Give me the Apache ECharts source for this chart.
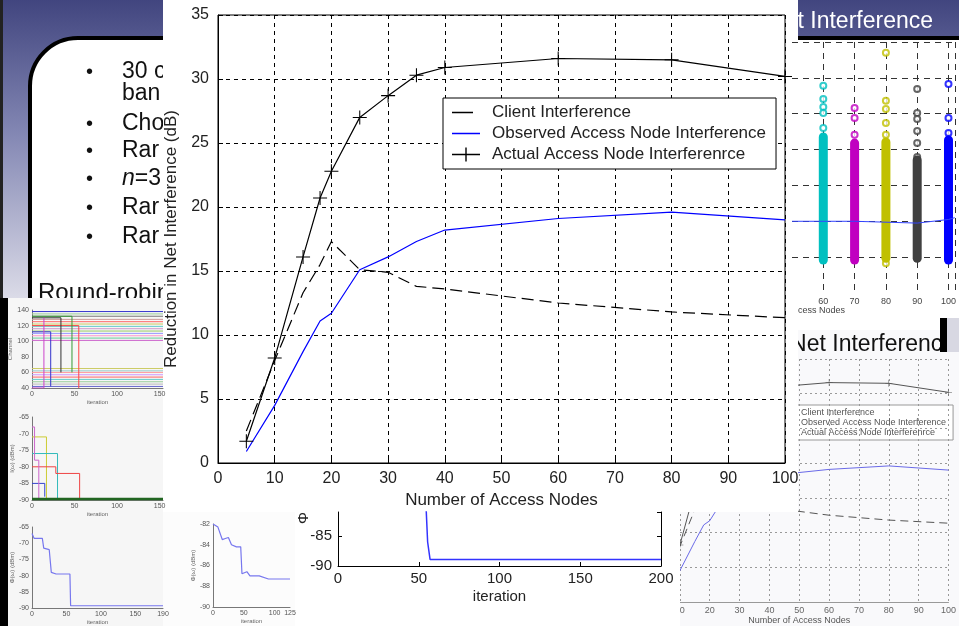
<!DOCTYPE html>
<html>
<head>
<meta charset="utf-8">
<script src="https://cdn.jsdelivr.net/npm/echarts@6/dist/echarts.min.js"></script>
<style>
  html, body { margin: 0; padding: 0; background: #fff; }
  #chart { width: 959px; height: 626px; }
</style>
</head>
<body>
<div id="chart"></div>
<script>
// main plot: reduction in net interference vs number of access nodes
const accessNodes = [5, 10, 15, 18, 20, 25, 30, 35, 40, 60, 80, 100];
const clientInterference = [2.5, 8.0, 13.3, 15.5, 17.3, 15.1, 14.9, 13.8, 13.6, 12.5, 11.8, 11.35];
const observedInterference = [0.9, 4.5, 8.7, 11.1, 11.7, 15.1, 16.1, 17.3, 18.2, 19.1, 19.6, 19.0];
const actualInterference = [1.7, 8.2, 16.1, 20.7, 22.8, 27.0, 28.7, 30.3, 30.9, 31.6, 31.5, 30.2];
const seriesNames = ['Client Interference', 'Observed Access Node Interference', 'Actual Access Node Interferenrce'];

// bottom centre plot (iteration)
const iterX = [54.5, 55.5, 57, 200];
const iterY = [-80, -86, -88.9, -88.9];
// small phi plot next to it
const phiSmallX = [0, 8, 15, 20, 25, 30, 38, 45, 47, 55, 60, 75, 90, 125];
const phiSmallY = [-82, -82.3, -83.5, -83.4, -83.3, -84, -84.2, -84.2, -86.8, -86.6, -87, -87, -87.3, -87.3];

// left small plots
const channelLevels = [138, 135, 132, 128, 125, 122, 119, 116, 113, 110, 107, 104, 101, 65, 62, 60, 57, 54, 51, 48, 45, 42];
const channelColors = ['#3333cc', '#99cc99', '#777777', '#cc9999', '#ff6666', '#cccc66', '#66cccc', '#cc99cc', '#99cc66', '#9999ff',
  '#ff99cc', '#66cc99', '#cc66cc', '#cccc66', '#99cccc', '#ff9999', '#cc99ff', '#ff6666', '#66cccc', '#99cc99', '#bbbbbb', '#6666cc'];
const channelJumps = [
  { color: '#ff4444', x: [0, 55, 55], y: [120, 120, 40] },
  { color: '#339933', x: [0, 47, 47], y: [132, 132, 60] },
  { color: '#3333cc', x: [0, 22, 22], y: [112, 112, 42] },
  { color: '#333333', x: [0, 34, 34], y: [130, 130, 60] },
  { color: '#cc44cc', x: [0, 14, 14], y: [40, 40, 130] }
];
const interfSteps = [
  { color: '#cccc33', x: [0, 17, 17], y: [-71, -71, -89.5] },
  { color: '#33bbbb', x: [0, 30, 30], y: [-76, -76, -89.5] },
  { color: '#ee4444', x: [0, 28, 28, 56, 56], y: [-80, -80, -82, -82, -89.5] },
  { color: '#3344cc', x: [0, 15, 15], y: [-85, -85, -89] },
  { color: '#cc66cc', x: [0, 3, 3, 8, 8], y: [-68, -68, -78, -78, -89.5] },
  { color: '#226622', x: [0, 154], y: [-89.7, -89.7] }
];
const phiLeftX = [0, 3, 15, 17, 25, 28, 35, 55, 56, 190];
const phiLeftY = [-67, -68.5, -68.5, -71.5, -72, -79, -79.5, -79.5, -89.3, -89.3];

// right scatter plot (per node count: dense range + outliers)
const scatterNodes = [60, 70, 80, 90, 100];
const scatterColors = ['#00c0c0', '#c000c0', '#c0c000', '#404040', '#0000ff'];
const denseLow = [0.92, 0.92, 0.97, 0.97, 0.92];
const denseHigh = [4.35, 4.18, 4.21, 3.71, 4.27];
const outliers = [
  [5.78, 5.41, 5.19, 5.02, 4.6],
  [5.16, 4.88, 4.41],
  [6.7, 5.36, 5.13, 4.74, 4.41, 0.83],
  [5.69, 5.02, 4.85, 4.52, 4.18, 3.79],
  [5.83, 4.88, 4.46]
];
const scatterLineX = [50, 70, 90, 100, 102];
const scatterLineY = [2.0, 2.0, 1.95, 2.05, 2.1];

const FONT = 'Liberation Sans, Arial, sans-serif';
const plus = 'path://M0,9.25h20v1.5h-20z M9.25,0h1.5v20h-1.5z';
// legend icons: zero-area edges fix the box so the line keeps its length
const iconShort = 'path://M0,0L0,14L0,0Z M35,0L35,14L35,0Z M0,6.3h21v1.4h-21Z';
const iconLine = 'path://M0,0L0,14L0,0Z M35,0L35,14L35,0Z M0,6.3h28v1.4h-28Z';
const iconPlus = 'path://M0,0L0,14L0,0Z M35,0L35,14L35,0Z M0,6.3h28v1.4h-28Z M13.3,0h1.4v14h-1.4Z';
const pair = (xs, ys) => xs.map((x, i) => [x, ys[i]]);

const chart = echarts.init(document.getElementById('chart'));

function smallX(grid, max, name) {
  return {
    type: 'value', gridIndex: grid, min: 0, max: max, interval: 50,
    name: name, nameLocation: 'middle', nameGap: 11,
    nameTextStyle: { fontSize: 6, color: '#666', fontFamily: FONT },
    axisLine: { lineStyle: { color: '#777' } }, axisTick: { show: false },
    axisLabel: { fontSize: 7, color: '#555', margin: 3, fontFamily: FONT },
    splitLine: { show: false }
  };
}
function smallY(grid, min, max, interval, name) {
  return {
    type: 'value', gridIndex: grid, min: min, max: max, interval: interval,
    name: name, nameLocation: 'middle', nameGap: 16,
    nameTextStyle: { fontSize: 6, color: '#666', fontFamily: FONT },
    axisLine: { show: true, lineStyle: { color: '#777' } }, axisTick: { show: false },
    axisLabel: { fontSize: 7, color: '#555', margin: 3, fontFamily: FONT },
    splitLine: { show: false }
  };
}

const series = [
  {
    name: seriesNames[0], type: 'line', xAxisIndex: 0, yAxisIndex: 0,
    data: pair(accessNodes, clientInterference), symbol: 'none',
    lineStyle: { color: '#000', width: 1.2, type: [12, 6] }, itemStyle: { color: '#000' }
  },
  {
    name: seriesNames[1], type: 'line', xAxisIndex: 0, yAxisIndex: 0,
    data: pair(accessNodes, observedInterference), symbol: 'none',
    lineStyle: { color: '#0000ff', width: 1.2 }, itemStyle: { color: '#0000ff' }
  },
  {
    name: seriesNames[2], type: 'line', xAxisIndex: 0, yAxisIndex: 0,
    data: pair(accessNodes, actualInterference), symbol: plus, symbolSize: 14,
    lineStyle: { color: '#000', width: 1.2 }, itemStyle: { color: '#000', borderWidth: 0 }
  },
  // faded copy, bottom right
  {
    name: seriesNames[0], type: 'line', xAxisIndex: 1, yAxisIndex: 1, z: -20,
    data: pair(accessNodes, clientInterference), symbol: 'none',
    lineStyle: { color: '#555', width: 1, type: [8, 5] }, itemStyle: { color: '#555' }
  },
  {
    name: seriesNames[1], type: 'line', xAxisIndex: 1, yAxisIndex: 1, z: -20,
    data: pair(accessNodes, observedInterference), symbol: 'none',
    lineStyle: { color: '#6a6ae8', width: 1 }, itemStyle: { color: '#6a6ae8' }
  },
  {
    name: seriesNames[2], type: 'line', xAxisIndex: 1, yAxisIndex: 1, z: -20,
    data: pair(accessNodes, actualInterference), symbol: plus, symbolSize: 7,
    lineStyle: { color: '#555', width: 1 }, itemStyle: { color: '#555', borderWidth: 0 }
  },
  {
    type: 'line', xAxisIndex: 2, yAxisIndex: 2, data: pair(iterX, iterY), symbol: 'none',
    lineStyle: { color: '#3333ff', width: 1.5 }
  },
  {
    type: 'line', xAxisIndex: 3, yAxisIndex: 4, data: pair(phiSmallX, phiSmallY), symbol: 'none',
    lineStyle: { color: '#7777ee', width: 1.2 }
  },
  {
    type: 'line', xAxisIndex: 6, yAxisIndex: 7, data: pair(phiLeftX, phiLeftY), symbol: 'none',
    lineStyle: { color: '#7777ee', width: 1.2 }
  }
];
channelLevels.forEach((lv, i) => series.push({
  type: 'line', xAxisIndex: 4, yAxisIndex: 5, symbol: 'none', data: [[0, lv], [154, lv]],
  lineStyle: { color: channelColors[i], width: 1 }
}));
channelJumps.forEach(j => series.push({
  type: 'line', xAxisIndex: 4, yAxisIndex: 5, symbol: 'none', data: pair(j.x, j.y),
  lineStyle: { color: j.color, width: 1 }
}));
interfSteps.forEach(s => series.push({
  type: 'line', xAxisIndex: 5, yAxisIndex: 6, symbol: 'none', data: pair(s.x, s.y),
  lineStyle: { color: s.color, width: s.x.length === 2 ? 2.5 : 1 }
}));
scatterNodes.forEach((n, i) => {
  series.push({
    type: 'line', xAxisIndex: 7, yAxisIndex: 8, symbol: 'none',
    data: [[n, denseLow[i]], [n, denseHigh[i]]],
    lineStyle: { color: scatterColors[i], width: 9, cap: 'round' }
  });
  series.push({
    type: 'scatter', xAxisIndex: 7, yAxisIndex: 8, symbol: 'emptyCircle', symbolSize: 6,
    data: outliers[i].map(v => [n, v]),
    itemStyle: { color: scatterColors[i], borderColor: scatterColors[i], borderWidth: 1 }
  });
});
series.push({
  type: 'line', xAxisIndex: 7, yAxisIndex: 8, symbol: 'none', data: pair(scatterLineX, scatterLineY),
  lineStyle: { color: '#3344ff', width: 1 }
});

const bullets = [
  { y: 72, t: '30 c', dot: true }, { y: 94, t: 'ban', dot: false }, { y: 124, t: 'Cho', dot: true },
  { y: 151, t: 'Rar', dot: true }, { y: 179, t: '{i|n}=3', dot: true }, { y: 208, t: 'Rar', dot: true },
  { y: 237, t: 'Rar', dot: true }
];
const graphics = [
  { type: 'rect', z: -100, shape: { x: 0, y: 0, width: 959, height: 626 }, style: { fill: '#fff' } },
  {
    type: 'rect', z: -90, shape: { x: 0, y: 0, width: 959, height: 300 },
    style: { fill: { type: 'linear', x: 0, y: 0, x2: 0, y2: 1, colorStops: [
      { offset: 0, color: '#41457f' }, { offset: 0.45, color: '#8488b4' }, { offset: 1, color: '#dcdce8' }] } }
  },
  { type: 'rect', z: -85, shape: { x: 30, y: 38, width: 1200, height: 800, r: 48 }, style: { fill: '#fff', stroke: '#000', lineWidth: 4 } },
  { type: 'text', z: -80, style: { x: 38, y: 293, text: 'Round-robin', fill: '#111', font: '24px ' + FONT, verticalAlign: 'middle' } },
  { type: 'text', z: -80, style: { x: 933, y: 22, text: 'Net Interference', fill: '#fff', font: '23px ' + FONT, align: 'right', verticalAlign: 'middle' } },
  { type: 'rect', z: -70, shape: { x: 8, y: 298, width: 155, height: 328 }, style: { fill: '#f6f6f6' } },
  { type: 'rect', z: -70, shape: { x: 798, y: 43, width: 161, height: 287 }, style: { fill: '#fff' } },
  { type: 'rect', z: -70, shape: { x: 680, y: 330, width: 279, height: 296 }, style: { fill: '#f9f9fb' } },
  { type: 'rect', z: -60, shape: { x: 0, y: 0, width: 3, height: 300 }, style: { fill: '#222' } },
  { type: 'rect', z: -60, shape: { x: 0, y: 298, width: 8, height: 328 }, style: { fill: '#000' } },
  { type: 'text', z: -30, style: { x: 955, y: 345, text: 'Net Interference', fill: '#111', font: '23px ' + FONT, align: 'right', verticalAlign: 'middle' } },
  { type: 'rect', z: -29, shape: { x: 940, y: 318, width: 7, height: 34 }, style: { fill: '#000' } },
  { type: 'rect', z: -29, shape: { x: 947, y: 318, width: 12, height: 34 }, style: { fill: '#d8d8e2' } },
  { type: 'rect', z: -7, shape: { x: 295, y: 512, width: 385, height: 114 }, style: { fill: '#fff' } },
  { type: 'rect', z: -7, shape: { x: 163, y: 512, width: 132, height: 114 }, style: { fill: '#fcfcfc' } },
  { type: 'text', z: -6, rotation: Math.PI / 2, x: 304, y: 524, style: { text: 'Φ(ω) (dBm)', fill: '#222', font: '15px ' + FONT, verticalAlign: 'middle' } },
  { type: 'text', z: -6, style: { x: 845, y: 311, text: 'Number of Access Nodes', fill: '#444', font: '9px ' + FONT, align: 'right', verticalAlign: 'middle' } },
  { type: 'rect', z: -5, shape: { x: 163, y: 0, width: 635, height: 512 }, style: { fill: '#fff' } }
];
bullets.forEach(b => {
  if (b.dot) graphics.push({ type: 'text', z: -80, style: { x: 86, y: b.y, text: '•', fill: '#111', font: '20px ' + FONT, verticalAlign: 'middle' } });
  graphics.push({ type: 'text', z: -80, style: { x: 122, y: b.y, text: b.t, fill: '#111', font: '23px ' + FONT, verticalAlign: 'middle',
    rich: { i: { fontStyle: 'italic', fontSize: 23, fontFamily: FONT, fill: '#111' } } } });
});

const option = {
  animation: false,
  textStyle: { fontFamily: FONT },
  graphic: { elements: graphics },
  legend: [
    {
      left: 443, top: 98, orient: 'vertical', backgroundColor: '#fff', borderColor: '#000', borderWidth: 1,
      padding: [6, 10, 6, 9], itemGap: 4, itemWidth: 35, itemHeight: 14,
      textStyle: { fontSize: 17, color: '#222', fontFamily: FONT },
      data: [
        { name: seriesNames[0], icon: iconShort },
        { name: seriesNames[1], icon: iconLine },
        { name: seriesNames[2], icon: iconPlus }
      ]
    },
    {
      left: 772, top: 405, orient: 'vertical', backgroundColor: '#fff', borderColor: '#999', borderWidth: 1, z: -20,
      padding: [3, 7, 3, 4], itemGap: 1, itemWidth: 20, itemHeight: 8,
      textStyle: { fontSize: 9, color: '#555', fontFamily: FONT },
      data: seriesNames.map(n => ({ name: n, icon: iconLine }))
    }
  ],
  grid: [
    { left: 218, top: 15, width: 567, height: 448, show: true, borderColor: '#000', borderWidth: 1 },
    { left: 650, top: 359, width: 310, height: 243, z: -20 },
    { left: 338, top: 512, width: 323, height: 54 },
    { left: 213, top: 524, width: 77, height: 83 },
    { left: 32, top: 310, width: 131, height: 78 },
    { left: 32, top: 417, width: 131, height: 83 },
    { left: 32, top: 527, width: 131, height: 87 },
    { left: 792, top: 42, width: 171, height: 251 }
  ],
  xAxis: [
    {
      type: 'value', gridIndex: 0, min: 0, max: 100, interval: 10,
      name: 'Number of Access Nodes', nameLocation: 'middle', nameGap: 25,
      nameTextStyle: { fontSize: 17, color: '#222' },
      axisLine: { lineStyle: { color: '#000' } },
      axisTick: { inside: true, length: 5, lineStyle: { color: '#000' } },
      axisLabel: { fontSize: 16, color: '#222', margin: 8 },
      splitLine: { show: true, lineStyle: { color: '#000', type: [4, 4] } }
    },
    {
      type: 'value', gridIndex: 1, min: 0, max: 100, interval: 10, z: -20,
      name: 'Number of Access Nodes', nameLocation: 'middle', nameGap: 14,
      nameTextStyle: { fontSize: 9, color: '#555' },
      axisLine: { lineStyle: { color: '#999' } }, axisTick: { show: false },
      axisLabel: { fontSize: 9, color: '#666', margin: 4 },
      splitLine: { show: true, lineStyle: { color: '#999', type: [2, 3] } }
    },
    {
      type: 'value', gridIndex: 2, min: 0, max: 200, interval: 50,
      name: 'iteration', nameLocation: 'middle', nameGap: 23,
      nameTextStyle: { fontSize: 15, color: '#222' },
      axisLine: { lineStyle: { color: '#000' } },
      axisTick: { inside: true, length: 4, lineStyle: { color: '#000' } },
      axisLabel: { fontSize: 15, color: '#222', margin: 5 },
      splitLine: { show: false }
    },
    smallX(3, 125, 'iteration'),
    smallX(4, 154, 'iteration'),
    smallX(5, 154, 'iteration'),
    smallX(6, 190, 'iteration'),
    {
      type: 'value', gridIndex: 7, min: 50, max: 102, interval: 10,
      axisLine: { show: false }, axisTick: { show: false },
      axisLabel: { fontSize: 9, color: '#444', margin: 4, showMinLabel: false },
      splitLine: { show: true, showMinLine: false, lineStyle: { color: '#333', type: [6, 5] } }
    }
  ],
  yAxis: [
    {
      type: 'value', gridIndex: 0, min: 0, max: 35, interval: 5,
      name: 'Reduction in Net Interference (dB)', nameLocation: 'middle', nameGap: 28,
      nameTextStyle: { fontSize: 17, color: '#222' },
      axisLine: { show: true, lineStyle: { color: '#000' } },
      axisTick: { show: true, inside: true, length: 5, lineStyle: { color: '#000' } },
      axisLabel: { fontSize: 16, color: '#222', margin: 9 },
      splitLine: { show: true, lineStyle: { color: '#000', type: [4, 4] } }
    },
    {
      type: 'value', gridIndex: 1, min: 0, max: 35, interval: 5, z: -20,
      axisLine: { show: false }, axisTick: { show: false }, axisLabel: { show: false },
      splitLine: { show: true, lineStyle: { color: '#999', type: [2, 3] } }
    },
    {
      type: 'value', gridIndex: 2, min: -90, max: -81, interval: 5,
      axisLine: { show: true, lineStyle: { color: '#000' } },
      axisTick: { show: true, inside: true, length: 4, lineStyle: { color: '#000' } },
      axisLabel: { fontSize: 15, color: '#222', margin: 6, showMaxLabel: false },
      splitLine: { show: false }
    },
    {
      type: 'value', gridIndex: 2, position: 'right', min: -90, max: -81, interval: 5,
      axisLine: { show: true, lineStyle: { color: '#000' } },
      axisTick: { show: true, inside: true, length: 4, lineStyle: { color: '#000' } },
      axisLabel: { show: false }, splitLine: { show: false }
    },
    smallY(3, -90, -82, 2, 'Φ(ω) (dBm)'),
    smallY(4, 40, 140, 20, 'Channel'),
    smallY(5, -90, -65, 5, 'I(ω) (dBm)'),
    smallY(6, -90, -65, 5, 'Φ(ω) (dBm)'),
    {
      type: 'value', gridIndex: 7, min: 0, max: 7, interval: 1,
      axisLine: { show: false }, axisTick: { show: false }, axisLabel: { show: false },
      splitLine: { show: true, showMinLine: false, lineStyle: { color: '#333', type: [6, 5] } }
    }
  ],
  series: series
};

chart.setOption(option);
</script>
</body>
</html>
